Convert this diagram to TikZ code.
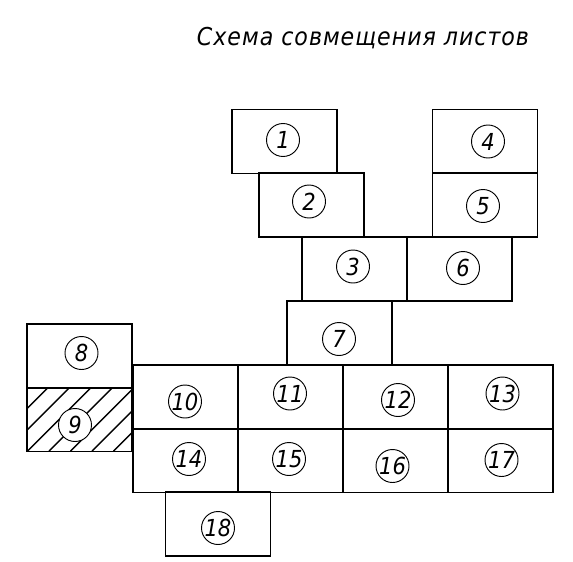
\documentclass[tikz,border=0pt]{standalone}
\usepackage{fontspec}
\setsansfont{DejaVu Sans Condensed}
\newfontfamily\titlefont[LetterSpace=4]{DejaVu Sans Condensed}
\usepackage{tikz}
\usetikzlibrary{positioning}
\tikzset{
  sheet/.style = {draw, rectangle, line width=1.6pt, minimum width=3.15cm,
                  minimum height=1.92cm, inner sep=0pt},
  num/.style   = {draw, circle, line width=0.8pt, minimum size=0.99cm,
                  inner sep=0pt, fill=white,
                  font=\sffamily\itshape\fontsize{20}{20}\selectfont},
  hatch/.style = {line width=1.2pt},
  title/.style = {font=\titlefont\itshape\fontsize{21}{22}\selectfont}
}

\begin{document}
\begin{tikzpicture}[x=0.03cm,y=-0.03cm]
  \useasboundingbox (0,0) rectangle (573,561);
  \node[title, anchor=base] (head) at (363,45) {Схема совмещения листов};
  % sheets
  \node[sheet] (s1)  at (284.5,141.5) {};
  \node[sheet] (s2)  at (311.5,205)   {};
  \node[sheet] (s3)  at (354.5,269)   {};
  \node[sheet] (s4)  at (485,141.5)   {};
  \node[sheet] (s5)  at (485,205)     {};
  \node[sheet] (s6)  at (459.5,269)   {};
  \node[sheet] (s7)  at (339.5,333)   {};
  \node[sheet] (s8)  at (79.5,356)    {};
  \begin{scope}
    \clip (27.5,388) rectangle (131.5,451);
    \foreach \k in {-3,...,5}
      \draw[hatch] (27.5+21.5*\k,451) -- ++(63,-63);
  \end{scope}
  \node[sheet] (s9)  at (79.5,419.5)  {};
  \node[sheet] (s10) at (185.5,397)   {};
  \node[sheet] (s11) at (290.5,397)   {};
  \node[sheet] (s12) at (395.5,397)   {};
  \node[sheet] (s13) at (500.5,397)   {};
  \node[sheet] (s14) at (185.5,460.5) {};
  \node[sheet] (s15) at (290.5,460.5) {};
  \node[sheet] (s16) at (395.5,460.5) {};
  \node[sheet] (s17) at (500.5,460.5) {};
  \node[sheet] (s18) at (218,524)     {};
  % numbers
  \node[num] (n1)  at (283,140)   {1};
  \node[num] (n2)  at (309,201.5) {2};
  \node[num] (n3)  at (353,266.5) {3};
  \node[num] (n4)  at (488,141.5) {4};
  \node[num] (n5)  at (483,206)   {5};
  \node[num] (n6)  at (463,268)   {6};
  \node[num] (n7)  at (339,339)   {7};
  \node[num] (n8)  at (81.5,353)  {8};
  \node[num] (n9)  at (75,425)    {9};
  \node[num] (n10) at (185,401.5) {10};
  \node[num] (n11) at (290,393.5) {11};
  \node[num] (n12) at (398,400)   {12};
  \node[num] (n13) at (502.5,393.5) {13};
  \node[num] (n14) at (189,459)   {14};
  \node[num] (n15) at (289,459)   {15};
  \node[num] (n16) at (392.5,466) {16};
  \node[num] (n17) at (501.5,460) {17};
  \node[num] (n18) at (218,528)   {18};
\end{tikzpicture}
\end{document}
